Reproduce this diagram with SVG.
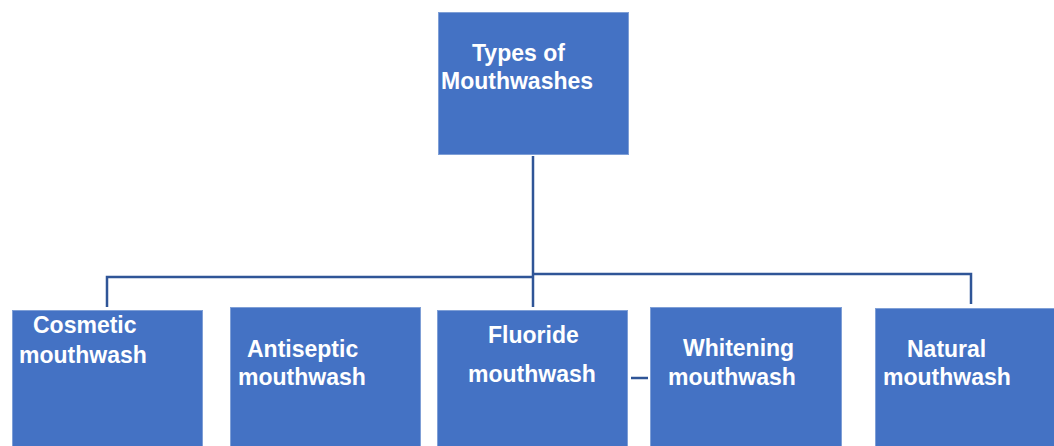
<svg xmlns="http://www.w3.org/2000/svg" width="1054" height="446" viewBox="0 0 1054 446">
<style>
.box{fill:#4472C4;stroke:#7F9FD6;stroke-width:1}
.lbl{font-family:"Liberation Sans",Arial,sans-serif;font-weight:bold;font-size:23px;fill:#FFFFFF}
.ln{fill:none;stroke:#2F5597;stroke-width:2.5}
</style>
<rect width="1054" height="446" fill="#FFFFFF"/>
<g id="connectors">
<path class="ln" d="M533,156 V307"/>
<path class="ln" d="M107,307 V277 H533"/>
<path class="ln" d="M533,274 H971 V304"/>
<path class="ln" d="M631,378 H648"/>
</g>
<g id="root">
<rect class="box" x="438.5" y="12.5" width="190" height="142"/>
<text class="lbl" x="472" y="61">Types of</text>
<text class="lbl" x="441" y="89">Mouthwashes</text>
</g>
<g id="cosmetic">
<rect class="box" x="12.5" y="310.5" width="190" height="140"/>
<text class="lbl" x="33" y="333">Cosmetic</text>
<text class="lbl" x="19" y="363">mouthwash</text>
</g>
<g id="antiseptic">
<rect class="box" x="230.5" y="307.5" width="190" height="140"/>
<text class="lbl" x="247" y="357">Antiseptic</text>
<text class="lbl" x="238" y="385">mouthwash</text>
</g>
<g id="fluoride">
<rect class="box" x="437.5" y="310.5" width="190" height="140"/>
<text class="lbl" x="488" y="343">Fluoride</text>
<text class="lbl" x="468" y="382">mouthwash</text>
</g>
<g id="whitening">
<rect class="box" x="650.5" y="307.5" width="191" height="140"/>
<text class="lbl" x="683" y="356">Whitening</text>
<text class="lbl" x="668" y="385">mouthwash</text>
</g>
<g id="natural">
<rect class="box" x="875.5" y="308.5" width="190" height="140"/>
<text class="lbl" x="907" y="357">Natural</text>
<text class="lbl" x="883" y="385">mouthwash</text>
</g>
</svg>
